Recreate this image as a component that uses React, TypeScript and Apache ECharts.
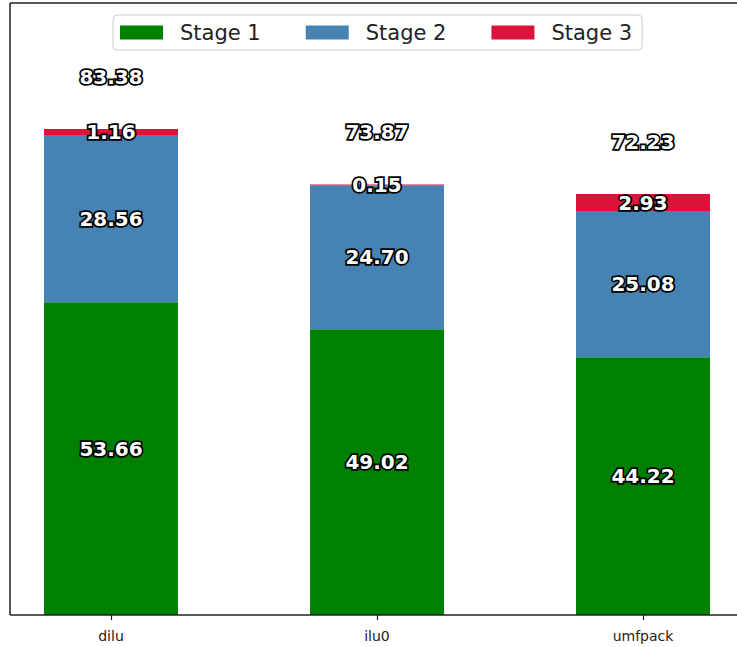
import React, { useEffect, useRef } from "react";
import * as echarts from "echarts";

const categories = ["dilu", "ilu0", "umfpack"];
const stage1 = [53.66, 49.02, 44.22];
const stage2 = [28.56, 24.7, 25.08];
const stage3 = [1.16, 0.15, 2.93];
const seriesNames = ["Stage 1", "Stage 2", "Stage 3"];
const colors = ["#008000", "#4682B4", "#DC143C"];

const FONT = "DejaVu Sans";
const SHIFT = 22; // inner chart is shifted left by this many pixels

export default function App() {
  const ref = useRef<HTMLDivElement>(null);
  useEffect(() => {
    if (!ref.current) return;
    const chart = echarts.init(ref.current, undefined, { renderer: "svg" });
    const totals = categories.map((_, i) => stage1[i] + stage2[i] + stage3[i]);
    const labelStyle = {
      show: true,
      position: "inside" as const,
      fontFamily: FONT,
      fontWeight: "bold" as const,
      fontSize: 20,
      color: "#ffffff",
      opacity: 1,
      textBorderColor: "#000000",
      textBorderWidth: 3.5,
      formatter: (p: any) => Number(p.value).toFixed(2),
    };
    const stageData = [stage1, stage2, stage3];
    const barSeries = stageData.map((d, k) => ({
      name: seriesNames[k],
      type: "bar",
      stack: "total",
      barWidth: 134,
      data: d,
      itemStyle: { color: colors[k] },
      label: k === 0 ? { ...labelStyle, offset: [0, -10] } : labelStyle,
    }));
    const lineStyle = { stroke: "#222222", lineWidth: 1.5 };
    chart.setOption({
      animation: false,
      grid: { left: 0, right: 0, top: 3, bottom: 32, containLabel: false },
      legend: {
        data: seriesNames,
        left: 113 + SHIFT,
        top: 15,
        icon: "rect",
        itemWidth: 43,
        itemHeight: 14,
        itemGap: 45,
        padding: [6, 10, 6, 7],
        borderColor: "#cccccc",
        borderWidth: 1,
        borderRadius: 4,
        textStyle: {
          fontFamily: FONT,
          fontSize: 21,
          color: "#222222",
          lineHeight: 23,
          padding: [0, 0, 0, 12],
        },
      },
      xAxis: {
        type: "category",
        data: categories,
        axisLine: { show: false },
        axisTick: { show: true, alignWithLabel: true, length: 5, lineStyle: { color: "#222222", width: 1.2 } },
        axisLabel: { fontFamily: FONT, fontSize: 14, color: "#222222", margin: 14 },
      },
      yAxis: {
        type: "value",
        min: 0,
        max: 105,
        show: false,
        splitLine: { show: false },
      },
      graphic: [
        { type: "line", shape: { x1: 10 + SHIFT, y1: 3, x2: 10 + SHIFT, y2: 615 }, style: lineStyle, z: 100 },
        { type: "line", shape: { x1: 10 + SHIFT, y1: 3, x2: 737 + SHIFT, y2: 3 }, style: lineStyle, z: 100 },
        { type: "line", shape: { x1: 10 + SHIFT, y1: 615, x2: 737 + SHIFT, y2: 615 }, style: lineStyle, z: 100 },
      ],
      series: [
        ...barSeries,
        {
          name: "Total",
          type: "scatter",
          symbolSize: 0,
          itemStyle: { color: "#ffffff", opacity: 1 },
          data: totals.map((t, i) => [i, t + 9]),
          label: {
            ...labelStyle,
            formatter: (p: any) => totals[p.dataIndex].toFixed(2),
          },
        },
      ],
    });
    return () => chart.dispose();
  }, []);
  return (
    <div
      style={{ position: "absolute", left: 0, top: 0, width: 737, height: 647, overflow: "hidden", background: "#ffffff" }}
    >
      <div
        ref={ref}
        style={{ position: "absolute", left: -SHIFT, top: 0, width: 798, height: 647 }}
      />
    </div>
  );
}
